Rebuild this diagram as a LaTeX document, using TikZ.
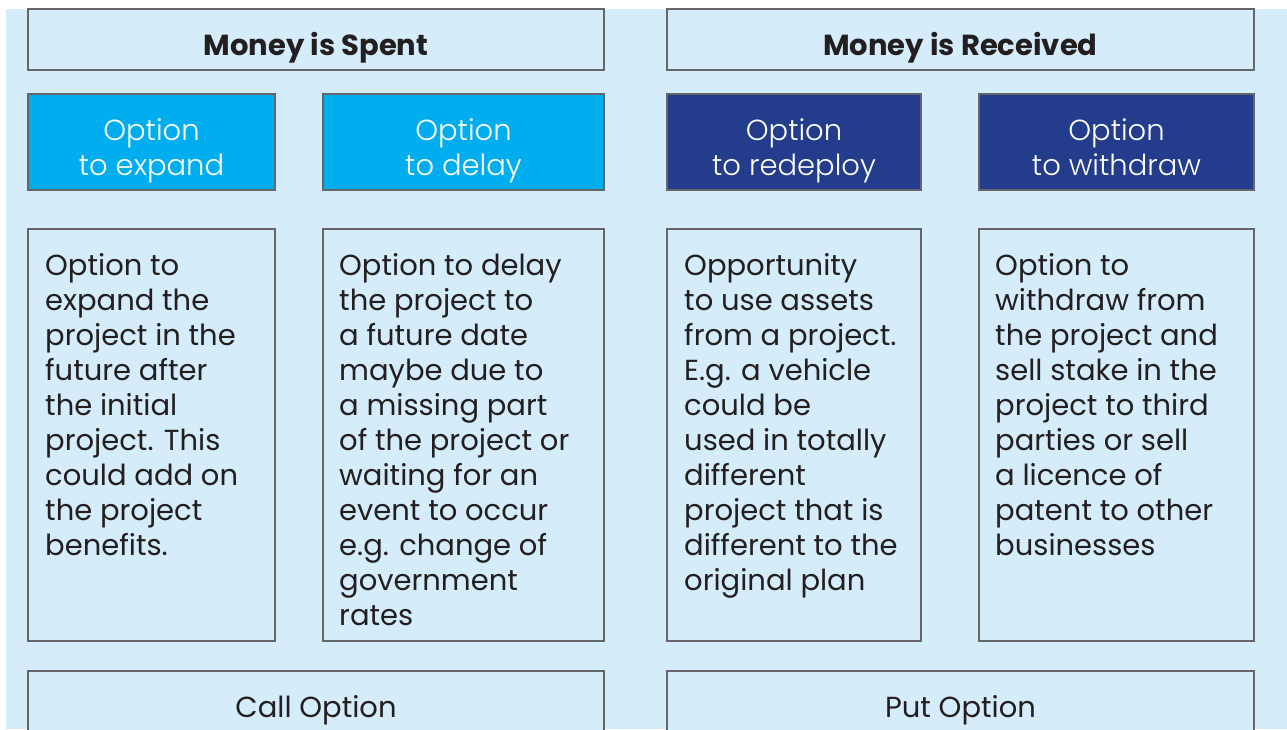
\documentclass[tikz,border=0pt]{standalone}
\usepackage{fontspec}
\setmainfont{Poppins}
\newfontfamily\poplight{Poppins Light}
\definecolor{bgblue}{HTML}{D5ECFA}
\definecolor{framegray}{HTML}{65666A}
\definecolor{cyanopt}{HTML}{00AEEF}
\definecolor{navyopt}{HTML}{233D8C}
\definecolor{inktext}{HTML}{231F20}
\tikzset{
  frame/.style={draw=framegray, line width=2.5pt, fill=bgblue, inner sep=0pt},
  optcyan/.style={draw=framegray, line width=2.5pt, fill=cyanopt, inner sep=0pt},
  optnavy/.style={draw=framegray, line width=2.5pt, fill=navyopt, inner sep=0pt},
  opttext/.style={text=white, anchor=base, inner sep=0pt, font=\poplight\fontsize{29}{35}\selectfont},
  headtext/.style={text=inktext, anchor=base, font=\bfseries\fontsize{29}{33}\selectfont, inner sep=0pt},
  bodytext/.style={text=inktext, align=left, anchor=north west, inner sep=0pt, font=\fontsize{29}{35}\selectfont},
  foottext/.style={text=inktext, anchor=base, font=\fontsize{29}{33}\selectfont, inner sep=0pt}
}
\begin{document}
\begin{tikzpicture}[x=1pt,y=-1pt]
\useasboundingbox (0,0) rectangle (1287,729);
\clip (0,0) rectangle (1287,729);
\fill[bgblue] (6,9) rectangle (1287,729);
% headers
\node[frame, minimum width=576pt, minimum height=61pt] (hl) at (316,39.5) {};
\node[frame, minimum width=587pt, minimum height=61pt] (hr) at (960.5,39.5) {};
\node[headtext] (hlt) at (316,55) {Money is Spent};
\node[headtext] (hrt) at (960.5,55) {Money is Received};
% option boxes
\node[optcyan, minimum width=247pt, minimum height=96pt] (o1) at (151.5,142) {};
\node[optcyan, minimum width=281pt, minimum height=96pt] (o2) at (463.5,142) {};
\node[optnavy, minimum width=254pt, minimum height=96pt] (o3) at (794,142) {};
\node[optnavy, minimum width=275pt, minimum height=96pt] (o4) at (1116.5,142) {};
\node[opttext] (o1a) at (151.5,140) {Option};
\node[opttext] (o1b) at (151.5,175) {to expand};
\node[opttext] (o2a) at (463.5,140) {Option};
\node[opttext] (o2b) at (463.5,175) {to delay};
\node[opttext] (o3a) at (794,140) {Option};
\node[opttext] (o3b) at (794,175) {to redeploy};
\node[opttext] (o4a) at (1116.5,140) {Option};
\node[opttext] (o4b) at (1116.5,175) {to withdraw};
% body boxes
\node[frame, minimum width=247pt, minimum height=412pt] (b1) at (151.5,435) {};
\node[frame, minimum width=281pt, minimum height=412pt] (b2) at (463.5,435) {};
\node[frame, minimum width=254pt, minimum height=412pt] (b3) at (794,435) {};
\node[frame, minimum width=275pt, minimum height=412pt] (b4) at (1116.5,435) {};
\node[bodytext] (t1) at (45,253) {Option to\\expand the\\project in the\\future after\\the initial\\project. This\\could add on\\the project\\benefits.};
\node[bodytext] (t2) at (339,253) {Option to delay\\the project to\\a future date\\maybe due to\\a missing part\\of the project or\\waiting for an\\event to occur\\e.g. change of\\government\\rates};
\node[bodytext] (t3) at (684,253) {Opportunity\\to use assets\\from a project.\\E.g. a vehicle\\could be\\used in totally\\different\\project that is\\different to the\\original plan};
\node[bodytext] (t4) at (995,253) {Option to\\withdraw from\\the project and\\sell stake in the\\project to third\\parties or sell\\a licence of\\patent to other\\businesses};
% footer boxes
\node[frame, minimum width=576pt, minimum height=100pt] (fl) at (316,721) {};
\node[frame, minimum width=587pt, minimum height=100pt] (fr) at (960.5,721) {};
\node[foottext] (flt) at (316,717) {Call Option};
\node[foottext] (frt) at (960.5,717) {Put Option};
\end{tikzpicture}
\end{document}
